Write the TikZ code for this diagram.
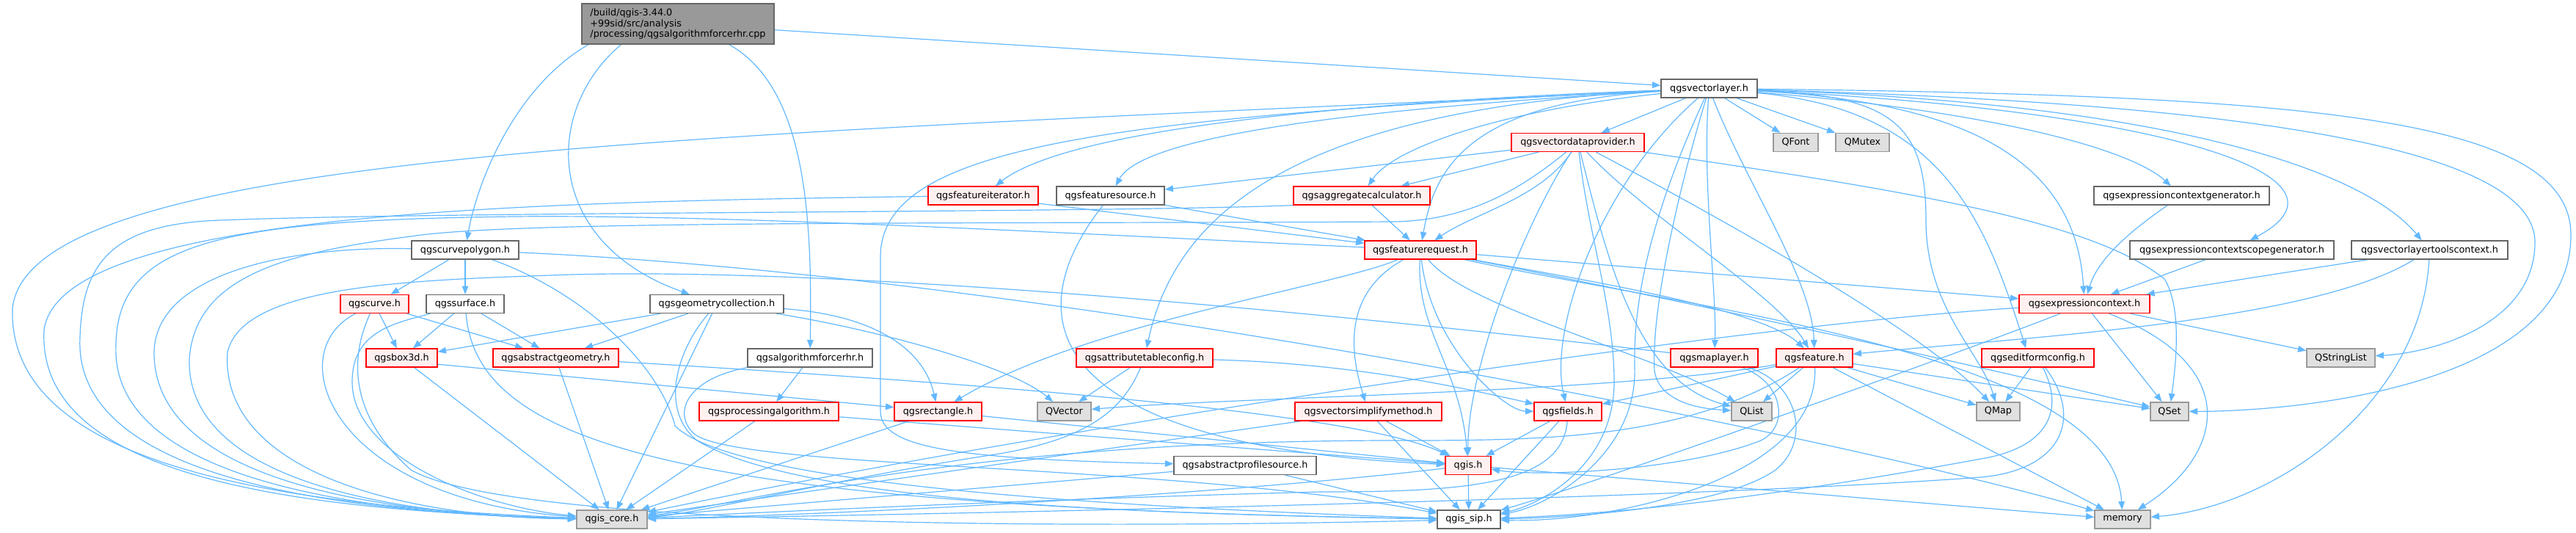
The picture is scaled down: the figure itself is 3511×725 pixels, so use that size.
\documentclass[tikz,border=0pt]{standalone}
\usepackage{fontspec}
\setmainfont{DejaVu Sans}
\usetikzlibrary{arrows.meta}
\definecolor{edgeblue}{HTML}{63B8FF}
\definecolor{grayforty}{HTML}{666666}
\definecolor{graysixty}{HTML}{999999}
\definecolor{redfill}{HTML}{FFF0F0}
\definecolor{extfill}{HTML}{E0E0E0}
\pgfdeclarelayer{edgelayer}
\pgfsetlayers{edgelayer,main}
\tikzset{
  nodebase/.style={rectangle, inner sep=0pt, minimum height=18.75pt, line width=1pt, font=\fontsize{9.6pt}{11pt}\selectfont},
  wnode/.style={nodebase, draw=grayforty, fill=white},
  rnode/.style={nodebase, draw=red, fill=redfill},
  gnode/.style={nodebase, draw=graysixty, fill=extfill},
  mnode/.style={nodebase, draw=grayforty, fill=graysixty, align=left, minimum height=41.25pt},
  nw/.code={\pgfmathsetmacro\nodewd{#1*0.75}\pgfkeysalso{minimum width=\nodewd pt}},
  depedge/.style={draw=edgeblue, line width=0.9pt, -{Triangle[length=8.5pt,width=6.5pt]}},
}
\begin{document}
\begin{tikzpicture}[x=0.75pt,y=-0.75pt]
\useasboundingbox (0,0) rectangle (3511,725);
% nodes
\node[mnode,nw=262] (root) at (924,32.5) {/build/qgis-3.44.0\\+99sid/src/analysis\\/processing/qgsalgorithmforcerhr.cpp};
\node[wnode,nw=131] (vl) at (2329.5,120.5) {qgsvectorlayer.h};
\node[rnode,nw=181] (vdp) at (2150.5,194) {qgsvectordataprovider.h};
\node[gnode,nw=61] (qfont) at (2447.5,194) {QFont};
\node[gnode,nw=73] (qmutex) at (2538.5,194) {QMutex};
\node[rnode,nw=150] (fiter) at (1340,266.5) {qgsfeatureiterator.h};
\node[wnode,nw=147] (fsource) at (1513.5,266.5) {qgsfeaturesource.h};
\node[rnode,nw=186] (aggcalc) at (1856,266.5) {qgsaggregatecalculator.h};
\node[wnode,nw=239] (exgen) at (2973.5,266.5) {qgsexpressioncontextgenerator.h};
\node[wnode,nw=146] (cpoly) at (634,340.5) {qgscurvepolygon.h};
\node[rnode,nw=152] (freq) at (1936,340.5) {qgsfeaturerequest.h};
\node[wnode,nw=278] (exscope) at (3042,340.5) {qgsexpressioncontextscopegenerator.h};
\node[wnode,nw=213] (vltc) at (3311.5,340.5) {qgsvectorlayertoolscontext.h};
\node[rnode,nw=93] (curve) at (510.5,414) {qgscurve.h};
\node[wnode,nw=106] (surface) at (634,414) {qgssurface.h};
\node[wnode,nw=182] (gcoll) at (977,414) {qgsgeometrycollection.h};
\node[rnode,nw=178] (exctx) at (2841,414) {qgsexpressioncontext.h};
\node[rnode,nw=97] (box3d) at (547.5,487.5) {qgsbox3d.h};
\node[rnode,nw=171] (absgeom) at (757.5,487.5) {qgsabstractgeometry.h};
\node[wnode,nw=170] (algfrhr) at (1104,487.5) {qgsalgorithmforcerhr.h};
\node[rnode,nw=186] (attrtab) at (1560,487.5) {qgsattributetableconfig.h};
\node[rnode,nw=119] (maplayer) at (2336.5,487.5) {qgsmaplayer.h};
\node[rnode,nw=104] (feature) at (2473,487.5) {qgsfeature.h};
\node[rnode,nw=153] (editform) at (2777.5,487.5) {qgseditformconfig.h};
\node[gnode,nw=93] (qstringlist) at (3190.5,487.5) {QStringList};
\node[rnode,nw=190] (procalg) at (1048,560.5) {qgsprocessingalgorithm.h};
\node[rnode,nw=119] (rect) at (1278.5,560.5) {qgsrectangle.h};
\node[gnode,nw=73] (qvector) at (1450.5,560.5) {QVector};
\node[rnode,nw=200] (simplify) at (1865,560.5) {qgsvectorsimplifymethod.h};
\node[rnode,nw=92] (fields) at (2137,560.5) {qgsfields.h};
\node[gnode,nw=55] (qlist) at (2387.5,560.5) {QList};
\node[gnode,nw=59] (qmap) at (2723.5,560.5) {QMap};
\node[gnode,nw=52] (qset) at (2957,560.5) {QSet};
\node[rnode,nw=62] (qgish) at (2001,634) {qgis.h};
\node[wnode,nw=194] (profsrc) at (1697,634) {qgsabstractprofilesource.h};
\node[gnode,nw=96] (core) at (834,707.5) {qgis\_core.h};
\node[wnode,nw=86] (sip) at (2002,707.5) {qgis\_sip.h};
\node[gnode,nw=76] (memory) at (2893,707.5) {memory};

\begin{pgfonlayer}{edgelayer}
% root
\draw[depedge] (root) -- (vl);
\draw[depedge] (root.-167) .. controls (700,120) and (650,250) .. (cpoly);
\draw[depedge] (root.-160) .. controls (740,150) and (740,330) .. (gcoll);
\draw[depedge] (root.-22) .. controls (1100,120) and (1107,300) .. (algfrhr);
% vectorlayer
\draw[depedge] (vl) -- (vdp);
\draw[depedge] (vl) -- (qfont);
\draw[depedge] (vl) -- (qmutex);
\draw[depedge] (vl) .. controls (2050,150) and (1900,200) .. (aggcalc);
\draw[depedge] (vl) .. controls (2000,140) and (1955,230) .. (freq);
\draw[depedge] (vl) .. controls (1800,140) and (1450,180) .. (fiter);
\draw[depedge] (vl) .. controls (1900,145) and (1560,180) .. (fsource);
\draw[depedge] (vl) .. controls (1750,150) and (1600,300) .. (attrtab);
\draw[depedge] (vl) .. controls (1500,160) and (1200,200) .. (1200,350) -- (1200,560) .. controls (1200,610) and (1300,625) .. (profsrc);
\draw[depedge] (vl) .. controls (2320,250) and (2340,400) .. (maplayer);
\draw[depedge] (vl) .. controls (2380,250) and (2470,380) .. (feature);
\draw[depedge] (vl) .. controls (2580,130) and (2625,170) .. (2625,300) .. controls (2625,420) and (2700,480) .. (qmap);
\draw[depedge] (vl) .. controls (2290,250) and (2250,420) .. (2255,505) .. controls (2260,540) and (2300,556) .. (qlist);
\draw[depedge] (vl) .. controls (2270,250) and (2225,380) .. (2228,500) .. controls (2232,620) and (2110,690) .. (sip);
\draw[depedge] (vl) .. controls (2180,250) and (2110,450) .. (fields);
\draw[depedge] (vl) .. controls (2650,150) and (2705,300) .. (editform.141);
\draw[depedge] (vl) .. controls (2700,140) and (2830,230) .. (exctx);
\draw[depedge] (vl) .. controls (2700,150) and (2900,200) .. (exgen);
\draw[depedge] (vl) .. controls (2950,150) and (3230,240) .. (exscope);
\draw[depedge] (vl) .. controls (2950,140) and (3220,230) .. (vltc);
\draw[depedge] (vl) .. controls (3050,140) and (3455,200) .. (3455,330) .. controls (3455,440) and (3320,480) .. (qstringlist);
\draw[depedge] (vl) .. controls (3150,130) and (3504,160) .. (3504,320) .. controls (3504,520) and (3150,560) .. (qset);
\draw[depedge] (vl) .. controls (1000,185) and (40,200) .. (17,420) .. controls (10,640) and (400,690) .. (core);
% vectordataprovider
\draw[depedge] (vdp) -- (aggcalc);
\draw[depedge] (vdp) .. controls (2100,270) and (2010,290) .. (freq);
\draw[depedge] (vdp) -- (fsource);
\draw[depedge] (vdp) .. controls (2070,260) and (2000,300) .. (1900,302) .. controls (1300,305) and (700,300) .. (560,322) .. controls (380,345) and (265,380) .. (258,490) .. controls (255,650) and (520,702) .. (core);
\draw[depedge] (vdp) .. controls (2165,320) and (2200,420) .. (2200,520) .. controls (2200,640) and (2090,690) .. (sip);
\draw[depedge] (vdp) .. controls (2250,300) and (2420,400) .. (feature);
\draw[depedge] (vdp) .. controls (2190,350) and (2230,520) .. (qlist);
\draw[depedge] (vdp) .. controls (2350,300) and (2620,450) .. (qmap);
\draw[depedge] (vdp) .. controls (2600,260) and (2850,300) .. (2950,380) .. controls (2975,420) and (2965,500) .. (qset);
\draw[depedge] (vdp) .. controls (2080,300) and (2000,500) .. (qgish);
% featurerequest
\draw[depedge] (freq) .. controls (1820,390) and (1480,440) .. (rect);
\draw[depedge] (freq) .. controls (2150,380) and (2400,420) .. (feature);
\draw[depedge] (freq) -- (exctx);
\draw[depedge] (freq) .. controls (2000,420) and (2250,480) .. (qlist);
\draw[depedge] (freq) .. controls (1500,320) and (1000,292) .. (700,295) .. controls (300,300) and (160,330) .. (158,470) .. controls (150,650) and (480,700) .. (core);
\draw[depedge] (freq) .. controls (2300,420) and (2880,480) .. (memory);
\draw[depedge] (freq) .. controls (2300,410) and (2700,500) .. (qset);
\draw[depedge] (freq) .. controls (1950,470) and (2050,560) .. (fields);
\draw[depedge] (freq) .. controls (1930,450) and (1990,500) .. (qgish);
\draw[depedge] (freq) .. controls (1830,400) and (1840,480) .. (simplify);
% iterator, source, aggregate
\draw[depedge] (fiter.-8) -- (freq);
\draw[depedge] (fiter) .. controls (700,275) and (80,290) .. (60,450) .. controls (50,650) and (400,695) .. (core);
\draw[depedge] (fsource) -- (freq);
\draw[depedge] (fsource) .. controls (1370,450) and (1450,610) .. (qgish);
\draw[depedge] (aggcalc) -- (freq);
\draw[depedge] (aggcalc.-172) .. controls (1500,290) and (600,288) .. (300,300) .. controls (150,305) and (112,360) .. (109,460) .. controls (100,650) and (450,698) .. (core);
% attribute table config
\draw[depedge] (attrtab) -- (qvector);
\draw[depedge] (attrtab) .. controls (1530,560) and (1480,600) .. (1350,620) .. controls (1150,650) and (950,700) .. (core);
\draw[depedge] (attrtab) .. controls (1850,495) and (2000,530) .. (fields);
% maplayer
\draw[depedge] (maplayer) .. controls (1500,390) and (1000,365) .. (750,375) .. controls (550,382) and (330,390) .. (310,480) .. controls (300,640) and (540,704) .. (core);
\draw[depedge] (maplayer) .. controls (2430,520) and (2440,580) .. (2400,600) .. controls (2300,640) and (2100,650) .. (qgish);
\draw[depedge] (maplayer) .. controls (2450,520) and (2470,600) .. (2420,640) .. controls (2350,690) and (2150,705) .. (sip);
% feature
\draw[depedge] (feature) -- (fields);
\draw[depedge] (feature) -- (qlist);
\draw[depedge] (feature) -- (qmap);
\draw[depedge] (feature) -- (qset);
\draw[depedge] (feature) -- (memory);
\draw[depedge] (feature) .. controls (2480,650) and (2200,712) .. (sip);
\draw[depedge] (feature) .. controls (2300,600) and (2100,600) .. (1900,600) .. controls (1300,600) and (1000,690) .. (core);
\draw[depedge] (feature) .. controls (2200,535) and (1700,540) .. (qvector);
% fields
\draw[depedge] (fields) -- (qgish);
\draw[depedge] (fields) -- (sip);
\draw[depedge] (fields) .. controls (2130,660) and (2000,670) .. (1800,670) .. controls (1400,680) and (1000,700) .. (core);
% qgis.h
\draw[depedge] (qgish) -- (sip);
\draw[depedge] (qgish) -- (memory);
\draw[depedge] (qgish) .. controls (1700,670) and (1200,700) .. (core);
% simplify, profile source, processing
\draw[depedge] (simplify) -- (qgish);
\draw[depedge] (simplify) -- (sip);
\draw[depedge] (simplify) -- (core);
\draw[depedge] (profsrc) -- (core);
\draw[depedge] (profsrc) -- (sip);
\draw[depedge] (procalg) -- (core);
\draw[depedge] (procalg) -- (qgish);
\draw[depedge] (algfrhr) -- (procalg);
\draw[depedge] (algfrhr.south west) .. controls (940,515) and (915,560) .. (945,590) .. controls (1000,640) and (1600,630) .. (sip);
\draw[depedge] (rect) -- (core);
\draw[depedge] (rect) -- (qgish);
% geometry collection
\draw[depedge] (gcoll) -- (absgeom);
\draw[depedge] (gcoll) -- (box3d);
\draw[depedge] (gcoll) .. controls (1200,430) and (1260,480) .. (rect);
\draw[depedge] (gcoll) .. controls (1200,450) and (1380,500) .. (qvector);
\draw[depedge] (gcoll) -- (core);
\draw[depedge] (gcoll) .. controls (920,480) and (900,560) .. (950,600) .. controls (1100,690) and (1600,700) .. (sip);
% curve polygon
\draw[depedge] (cpoly) -- (curve);
\draw[depedge] (cpoly) -- (surface);
\draw[depedge] (cpoly) .. controls (400,335) and (212,370) .. (210,480) .. controls (210,650) and (500,700) .. (core);
\draw[depedge] (cpoly) .. controls (800,400) and (900,500) .. (920,580) .. controls (1000,660) and (1500,690) .. (sip);
\draw[depedge] (cpoly) .. controls (1500,380) and (2600,620) .. (memory);
% curve, surface, box3d, abstract geometry
\draw[depedge] (curve) -- (box3d);
\draw[depedge] (curve) -- (absgeom);
\draw[depedge] (curve) .. controls (380,480) and (450,680) .. (core);
\draw[depedge] (curve) .. controls (480,480) and (470,560) .. (560,640) .. controls (700,720) and (1500,720) .. (sip);
\draw[depedge] (surface) -- (box3d);
\draw[depedge] (surface) -- (absgeom);
\draw[depedge] (surface) .. controls (540,440) and (480,450) .. (480,520) .. controls (480,620) and (650,690) .. (core);
\draw[depedge] (surface) .. controls (650,600) and (900,690) .. (sip);
\draw[depedge] (box3d.-10) -- (rect);
\draw[depedge] (box3d) -- (core);
\draw[depedge] (absgeom) -- (core);
\draw[depedge] (absgeom) .. controls (1300,520) and (1850,560) .. (qgish);
% expression context cluster
\draw[depedge] (exgen) .. controls (2910,310) and (2860,350) .. (exctx);
\draw[depedge] (exscope) -- (exctx);
\draw[depedge] (vltc) -- (exctx);
\draw[depedge] (vltc) .. controls (3300,550) and (3100,690) .. (memory);
\draw[depedge] (vltc) .. controls (3150,440) and (2750,460) .. (feature);
\draw[depedge] (exctx) -- (qset);
\draw[depedge] (exctx) -- (qstringlist);
\draw[depedge] (exctx) .. controls (3060,500) and (3030,620) .. (memory);
\draw[depedge] (exctx) .. controls (2400,440) and (1500,570) .. (core);
\draw[depedge] (exctx) .. controls (2700,470) and (2200,650) .. (sip);
\draw[depedge] (editform) -- (qmap);
\draw[depedge] (editform) .. controls (2815,560) and (2790,610) .. (2700,625) .. controls (2400,680) and (2200,700) .. (sip);
\draw[depedge] (editform) .. controls (2840,570) and (2810,640) .. (2700,650) .. controls (2300,680) and (1300,700) .. (core);
\end{pgfonlayer}
\end{tikzpicture}
\end{document}
